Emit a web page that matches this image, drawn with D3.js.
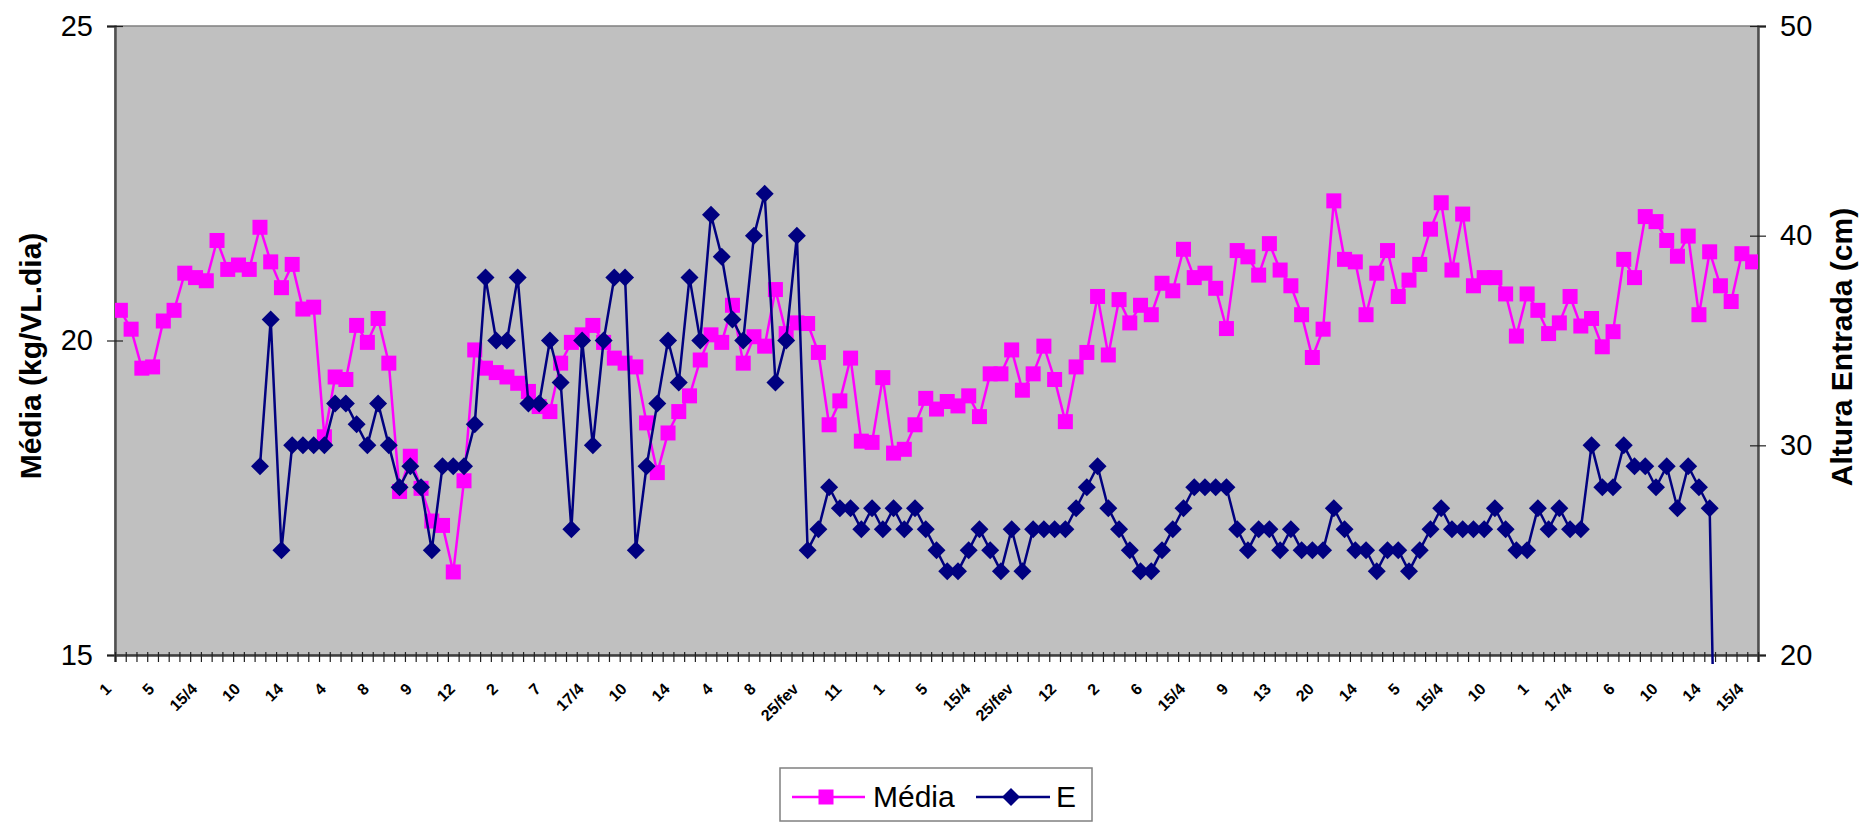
<!DOCTYPE html>
<html>
<head>
<meta charset="utf-8">
<script src="https://cdn.jsdelivr.net/npm/d3@7"></script>
<style>
  html, body { margin: 0; padding: 0; background: #ffffff; }
  svg { display: block; }
</style>
</head>
<body>
<svg id="chart" width="1863" height="823"></svg>
<script>
// Daily intake (kg/cow/day) on the left axis
const media = [
  20.48, 20.18, 19.56, 19.58, 20.31, 20.48, 21.07, 21.00, 20.95, 21.59,
  21.13, 21.20, 21.13, 21.80, 21.25, 20.84, 21.21, 20.50, 20.53, 18.47,
  19.42, 19.38, 20.24, 19.97, 20.35, 19.64, 17.60, 18.16, 17.65, 17.13,
  17.06, 16.32, 17.77, 19.85, 19.56, 19.49, 19.42, 19.32, 19.19, 18.95,
  18.87, 19.64, 19.97, 20.09, 20.24, 19.97, 19.72, 19.64, 19.58, 18.69,
  17.90, 18.53, 18.87, 19.12, 19.69, 20.09, 19.97, 20.56, 19.64, 20.06,
  19.91, 20.81, 20.11, 20.28, 20.27, 19.81, 18.66, 19.04, 19.72, 18.40,
  18.38, 19.41, 18.21, 18.27, 18.66, 19.08, 18.91, 19.03, 18.96, 19.12,
  18.79, 19.47, 19.47, 19.85, 19.21, 19.47, 19.91, 19.38, 18.71, 19.58,
  19.81, 20.70, 19.77, 20.65, 20.28, 20.56, 20.41, 20.91, 20.79, 21.45,
  21.00, 21.07, 20.83, 20.19, 21.43, 21.33, 21.04, 21.54, 21.12, 20.87,
  20.41, 19.73, 20.18, 22.22, 21.29, 21.25, 20.41, 21.07, 21.43, 20.70,
  20.96, 21.21, 21.77, 22.19, 21.12, 22.01, 20.87, 21.00, 21.00, 20.74,
  20.07, 20.74, 20.48, 20.11, 20.28, 20.70, 20.23, 20.35, 19.90, 20.14,
  21.29, 21.00, 21.97, 21.89, 21.59, 21.34, 21.66, 20.41, 21.41, 20.87,
  20.62, 21.38, 21.25
];

// Entry height (cm) on the right axis; null where not measured
const alturaE = [
  null, null, null, null, null, null, null, null, null, null,
  null, null, null, 29, 36, 25, 30, 30, 30, 30,
  32, 32, 31, 30, 32, 30, 28, 29, 28, 25,
  29, 29, 29, 31, 38, 35, 35, 38, 32, 32,
  35, 33, 26, 35, 30, 35, 38, 38, 25, 29,
  32, 35, 33, 38, 35, 41, 39, 36, 35, 40,
  42, 33, 35, 40, 25, 26, 28, 27, 27, 26,
  27, 26, 27, 26, 27, 26, 25, 24, 24, 25,
  26, 25, 24, 26, 24, 26, 26, 26, 26, 27,
  28, 29, 27, 26, 25, 24, 24, 25, 26, 27,
  28, 28, 28, 28, 26, 25, 26, 26, 25, 26,
  25, 25, 25, 27, 26, 25, 25, 24, 25, 25,
  24, 25, 26, 27, 26, 26, 26, 26, 27, 26,
  25, 25, 27, 26, 27, 26, 26, 30, 28, 28,
  30, 29, 29, 28, 29, 27, 29, 28, 27, 0,
  null, null, null
];

// Date labels shown on every fourth category
const dateLabels = [
  "1", "5", "15/4", "10", "14", "4", "8", "9", "12", "2",
  "7", "17/4", "10", "14", "4", "8", "25/fev", "11", "1", "5",
  "15/4", "25/fev", "12", "2", "6", "15/4", "9", "13", "20", "14",
  "5", "15/4", "10", "1", "17/4", "6", "10", "14", "15/4"
];
const labelEvery = 4;

const leftTicks = [15, 20, 25];
const rightTicks = [20, 30, 40, 50];

const seriesNames = ["Média", "E"];
const colors = { media: "#FF00FF", e: "#000080" };

const svg = d3.select("#chart");
const plot = { left: 115, right: 1758, top: 26, bottom: 655 };
const n = media.length;
const days = d3.range(n);

const x = d3.scaleBand().domain(days).range([plot.left, plot.right]).paddingInner(0).paddingOuter(0);
const cx = i => x(i) + x.bandwidth() / 2;
const xEdge = d3.scaleLinear().domain([0, n]).range([plot.left, plot.right]);
const yL = d3.scaleLinear().domain([15, 25]).range([plot.bottom, plot.top]);
const yR = d3.scaleLinear().domain([20, 50]).range([plot.bottom, plot.top]);

// plot background
svg.append("rect")
  .attr("x", plot.left).attr("y", plot.top)
  .attr("width", plot.right - plot.left).attr("height", plot.bottom - plot.top)
  .attr("fill", "#C0C0C0").attr("stroke", "#808080").attr("stroke-width", 1.5);

// clip region for the series (lets the last drop run slightly under the axis)
svg.append("clipPath").attr("id", "plotClip")
  .append("rect")
  .attr("x", plot.left).attr("y", plot.top)
  .attr("width", plot.right - plot.left).attr("height", plot.bottom - plot.top + 9);

const fontFamily = "'Liberation Sans', Arial, sans-serif";

// left axis
const gL = svg.append("g").attr("transform", `translate(${plot.left},0)`)
  .call(d3.axisLeft(yL).tickValues(leftTicks).tickSize(8).tickPadding(14).tickFormat(d3.format("d")));
gL.select(".domain").attr("stroke", "#505050").attr("stroke-width", 2.5);
gL.selectAll(".tick line").attr("x1", 8).attr("stroke", "#202020").attr("stroke-width", 1.2);
gL.selectAll(".tick text").attr("font-family", fontFamily).attr("font-size", 29).attr("fill", "#000");

// right axis
const gR = svg.append("g").attr("transform", `translate(${plot.right},0)`)
  .call(d3.axisRight(yR).tickValues(rightTicks).tickSize(8).tickPadding(14).tickFormat(d3.format("d")));
gR.select(".domain").attr("stroke", "#505050").attr("stroke-width", 2.5);
gR.selectAll(".tick line").attr("x1", -8).attr("stroke", "#202020").attr("stroke-width", 1.2);
gR.selectAll(".tick text").attr("font-family", fontFamily).attr("font-size", 29).attr("fill", "#000");

// bottom axis: ticks on category boundaries
const gB = svg.append("g").attr("transform", `translate(0,${plot.bottom})`)
  .call(d3.axisBottom(xEdge).tickValues(d3.range(n + 1)).tickSize(7).tickFormat(""));
gB.select(".domain").attr("stroke", "#404040").attr("stroke-width", 2.5);
gB.selectAll(".tick line").attr("y1", -3).attr("stroke", "#202020").attr("stroke-width", 1.2);

// rotated date labels
svg.append("g").selectAll("text")
  .data(dateLabels)
  .join("text")
  .attr("transform", (d, k) => `translate(${cx(k * labelEvery) - 8},${plot.bottom + 35}) rotate(-45)`)
  .attr("text-anchor", "end")
  .attr("font-family", fontFamily)
  .attr("font-weight", "bold")
  .attr("font-size", 16)
  .attr("fill", "#000")
  .text(d => d);

// axis titles
svg.append("text")
  .attr("transform", `translate(30,356) rotate(-90)`)
  .attr("text-anchor", "middle").attr("dominant-baseline", "central")
  .attr("font-family", fontFamily).attr("font-weight", "bold").attr("font-size", 30)
  .text("Média (kg/VL.dia)");
svg.append("text")
  .attr("transform", `translate(1841,347) rotate(-90)`)
  .attr("text-anchor", "middle").attr("dominant-baseline", "central")
  .attr("font-family", fontFamily).attr("font-weight", "bold").attr("font-size", 30)
  .text("Altura Entrada (cm)");

const series = svg.append("g").attr("clip-path", "url(#plotClip)");

// Média line + squares
const mediaPts = media.map((v, i) => ({ i, v }));
series.append("path")
  .datum(mediaPts)
  .attr("fill", "none").attr("stroke", colors.media).attr("stroke-width", 2.5)
  .attr("d", d3.line().x(d => cx(d.i)).y(d => yL(d.v)));
const sq = 15;
series.append("g").selectAll("rect")
  .data(mediaPts)
  .join("rect")
  .attr("x", d => cx(d.i) - sq / 2).attr("y", d => yL(d.v) - sq / 2)
  .attr("width", sq).attr("height", sq)
  .attr("fill", colors.media);

// E line + diamonds
const ePts = alturaE.map((v, i) => ({ i, v })).filter(d => d.v !== null);
series.append("path")
  .datum(ePts)
  .attr("fill", "none").attr("stroke", colors.e).attr("stroke-width", 2.5)
  .attr("d", d3.line().x(d => cx(d.i)).y(d => yR(d.v)));
const dm = 9;
series.append("g").selectAll("path")
  .data(ePts)
  .join("path")
  .attr("transform", d => `translate(${cx(d.i)},${yR(d.v)})`)
  .attr("d", `M0,${-dm}L${dm},0L0,${dm}L${-dm},0Z`)
  .attr("fill", colors.e);

// legend
const lg = svg.append("g");
lg.append("rect")
  .attr("x", 780).attr("y", 768).attr("width", 312).attr("height", 53)
  .attr("fill", "#fff").attr("stroke", "#808080").attr("stroke-width", 1.5);
const ly = 797;
lg.append("line").attr("x1", 792).attr("x2", 865).attr("y1", ly).attr("y2", ly)
  .attr("stroke", colors.media).attr("stroke-width", 2.5);
lg.append("rect").attr("x", 826 - sq / 2).attr("y", ly - sq / 2).attr("width", sq).attr("height", sq)
  .attr("fill", colors.media);
lg.append("text").attr("x", 873).attr("y", ly + 10)
  .attr("font-family", fontFamily).attr("font-size", 30).text(seriesNames[0]);
lg.append("line").attr("x1", 976).attr("x2", 1050).attr("y1", ly).attr("y2", ly)
  .attr("stroke", colors.e).attr("stroke-width", 2.5);
lg.append("path").attr("transform", `translate(1011,${ly})`)
  .attr("d", `M0,${-dm}L${dm},0L0,${dm}L${-dm},0Z`).attr("fill", colors.e);
lg.append("text").attr("x", 1056).attr("y", ly + 10)
  .attr("font-family", fontFamily).attr("font-size", 30).text(seriesNames[1]);
</script>
</body>
</html>
